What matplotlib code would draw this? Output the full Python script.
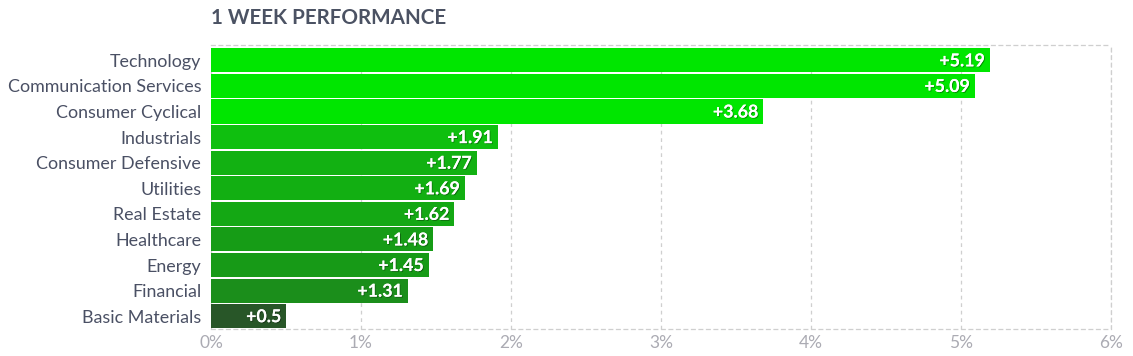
import matplotlib
matplotlib.use('Agg')
from matplotlib import pyplot as plt
from matplotlib import patheffects as pe

sectors = ['Technology', 'Communication Services', 'Consumer Cyclical', 'Industrials',
           'Consumer Defensive', 'Utilities', 'Real Estate', 'Healthcare', 'Energy',
           'Financial', 'Basic Materials']
perf = [5.19, 5.09, 3.68, 1.91, 1.77, 1.69, 1.62, 1.48, 1.45, 1.31, 0.5]
bar_colors = ['#00e600', '#00e600', '#00e600', '#0fbf0f', '#12b112', '#12af12',
              '#14a814', '#169c16', '#179a17', '#1b8e1b', '#285628']
ticks = [0, 1, 2, 3, 4, 5, 6]

plt.rcParams['font.family'] = ['Lato', 'DejaVu Sans']

fig = plt.figure(figsize=(11.33, 3.56), dpi=100)
ax = fig.add_axes([211 / 1133, 27 / 356, 900 / 1133, 284 / 356])

ypos = list(range(len(sectors)))
ax.barh(ypos, perf, height=0.94, color=bar_colors, zorder=3)
ax.set_ylim(len(sectors) - 0.5, -0.6)
ax.set_xlim(0, 6)

ax.set_yticks(ypos)
ax.set_yticklabels(sectors, fontsize=12.9, color='#4a5064')
ax.set_xticks(ticks)
ax.set_xticklabels(['{}%'.format(t) for t in ticks], fontsize=12.5, color='#ababb3')
ax.tick_params(axis='both', length=0)
ax.tick_params(axis='y', pad=7)
ax.tick_params(axis='x', pad=4)

ax.grid(axis='x', color='#cfcfcf', linestyle=(0, (3, 3)), linewidth=0.9, zorder=0)
ax.spines['left'].set_visible(False)
for side in ['top', 'bottom', 'right']:
    ax.spines[side].set_color('#cfcfcf')
    ax.spines[side].set_linestyle((0, (3, 3)))
    ax.spines[side].set_linewidth(0.9)

shadow = [pe.withSimplePatchShadow(offset=(0.7, -0.7), shadow_rgbFace='black', alpha=0.35),
          pe.Normal()]
for y, v in zip(ypos, perf):
    ax.text(v - 0.03, y + 0.02, '+{}'.format(v), ha='right', va='center', color='white',
            fontsize=12.8, fontweight='bold', zorder=4, path_effects=shadow)

fig.text(211 / 1133, 1 - 18 / 356, '1 WEEK PERFORMANCE', fontsize=14.9,
         fontweight='bold', color='#4b5263', va='center', ha='left')

fig.savefig('out.png', dpi=100, facecolor='white')
